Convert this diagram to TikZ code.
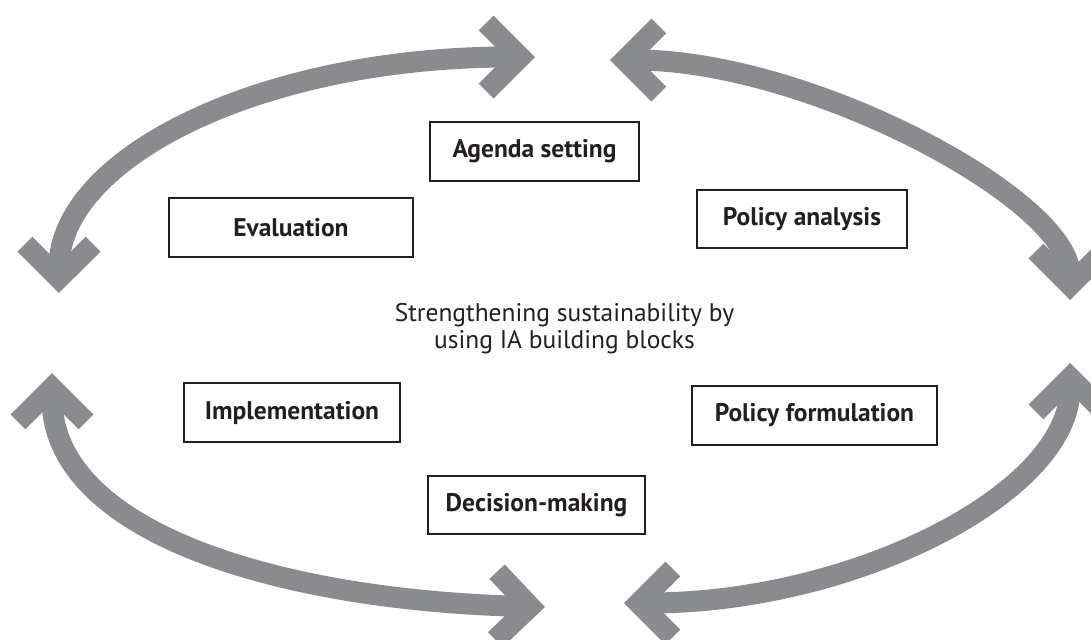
\documentclass[tikz,border=0pt]{standalone}
\usepackage{fontspec}
\setmainfont{PT Sans}
\usetikzlibrary{arrows.meta}
\definecolor{arcgray}{RGB}{138,139,143}
\definecolor{boxline}{RGB}{35,31,32}
\tikzset{
	block/.style = {draw = boxline, line width = 1.1pt, minimum height = 1.17cm, font = \fontsize{14.5}{17}\selectfont\bfseries, text = boxline},
	cyclearc/.style = {draw = arcgray, line width = 0.42cm, {Straight Barb[sharp, length = 0.68cm, width = 1.36cm]}-{Straight Barb[sharp, length = 0.68cm, width = 1.36cm]}}
}
\begin{document}
\begin{tikzpicture}
	\useasboundingbox (-10.91, -6.39) rectangle (10.91, 6.39);
	% ends of the four arcs
	\coordinate (TL1) at (-9.73,  0.53);
	\coordinate (TL2) at (-0.21,  5.25);
	\coordinate (TR1) at ( 1.29,  5.19);
	\coordinate (TR2) at (10.49,  0.39);
	\coordinate (BL1) at (-9.87, -1.07);
	\coordinate (BL2) at (-0.01, -5.75);
	\coordinate (BR1) at ( 1.57, -5.67);
	\coordinate (BR2) at (10.49, -0.87);
	\draw [cyclearc] (TL1) .. controls (-9.73,  3.23) and (-5.71,  5.25) .. (TL2);
	\draw [cyclearc] (TR1) .. controls ( 5.29,  5.19) and (10.49,  2.39) .. (TR2);
	\draw [cyclearc] (BL1) .. controls (-9.87, -4.27) and (-5.31, -5.61) .. (BL2);
	\draw [cyclearc] (BR1) .. controls ( 6.17, -5.67) and (10.49, -3.47) .. (BR2);
	% building blocks
	\node (AS) at (-0.22,  3.36)	[block, minimum width = 4.18cm]	{Agenda setting};
	\node (EV) at (-5.09,  1.84)	[block, minimum width = 4.88cm]	{Evaluation};
	\node (PA) at ( 5.13,  2.01)	[block, minimum width = 4.20cm]	{Policy analysis};
	\node (IM) at (-5.07, -1.86)	[block, minimum width = 4.32cm]	{Implementation};
	\node (PF) at ( 5.38, -1.92)	[block, minimum width = 4.90cm]	{Policy formulation};
	\node (DM) at (-0.18, -3.71)	[block, minimum width = 4.34cm]	{Decision-making};
	\node (C) at ( 0.38, -0.18)	[align = center, text = boxline, font = \fontsize{14.5}{15.3}\selectfont]	{Strengthening sustainability by\\using IA building blocks};
\end{tikzpicture}
\end{document}
